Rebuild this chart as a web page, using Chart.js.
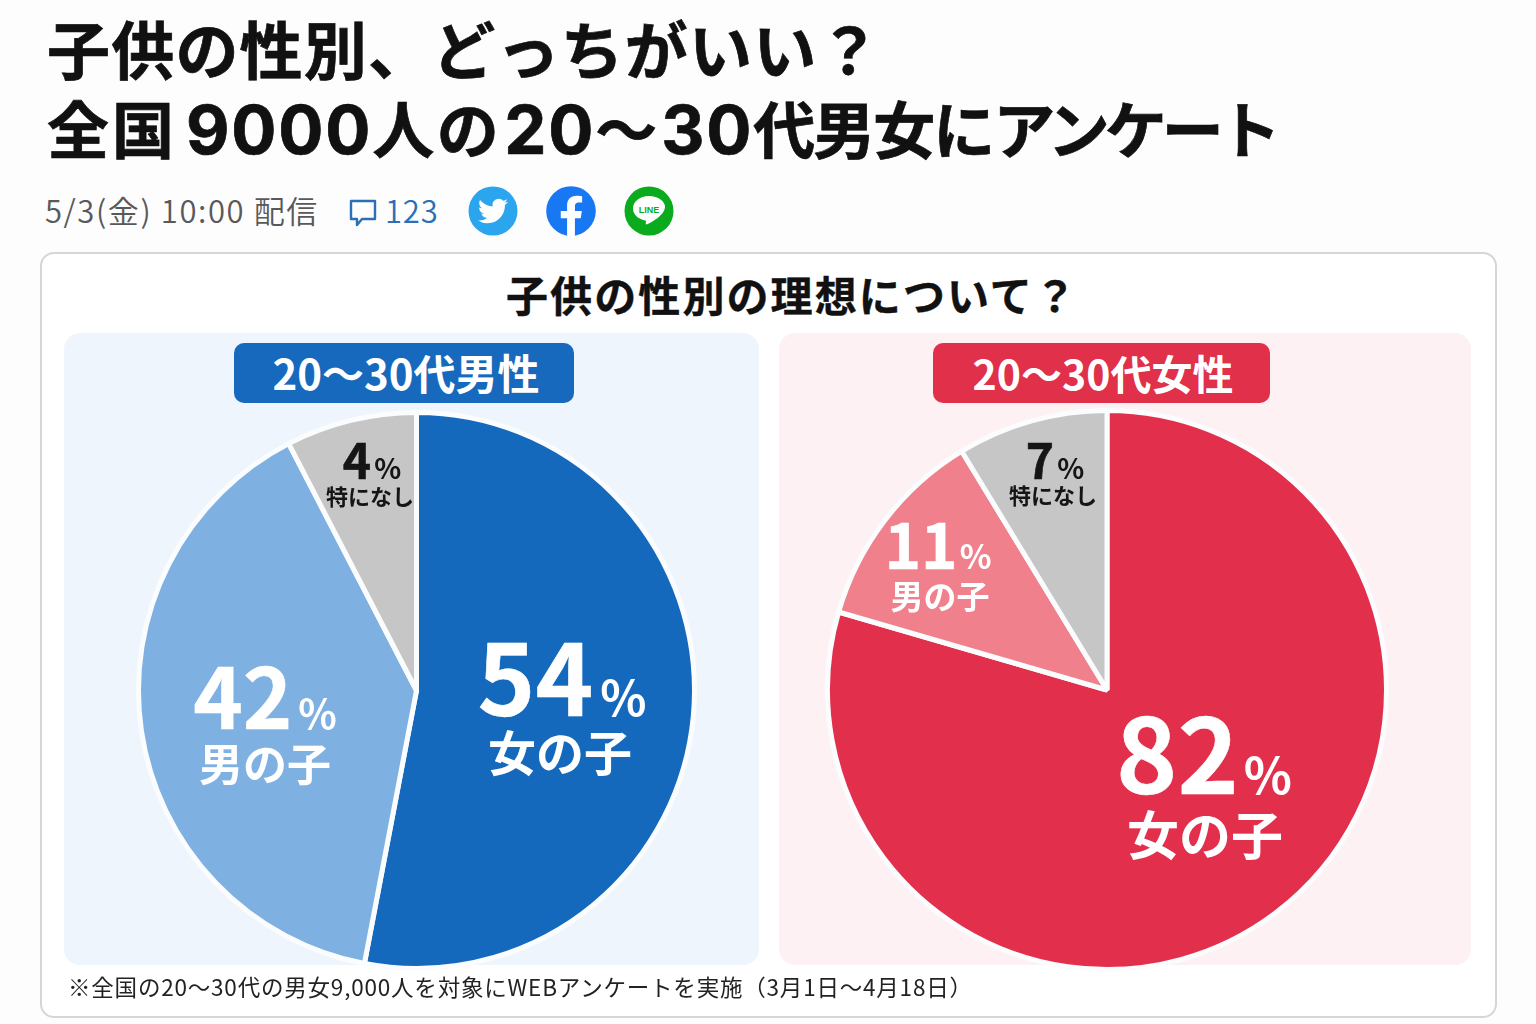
<!DOCTYPE html>
<html lang="ja"><head><meta charset="utf-8">
<script src="https://cdn.jsdelivr.net/npm/chart.js@4"></script>
<style>
html,body{margin:0;padding:0;width:1536px;height:1024px;overflow:hidden;background:#fdfdfd;font-family:"Noto Sans CJK JP",sans-serif;color:#111}
.a{position:absolute;white-space:nowrap}
.c{transform:translate(-50%,-50%);line-height:1}
h1{margin:0;font-size:63px;font-weight:700;line-height:1;-webkit-text-stroke:.7px #111}
h1 .d{font-family:Inter,sans-serif;font-size:67px;letter-spacing:1.800px;font-weight:700}
canvas{position:absolute}
</style></head><body>
<h1 class="a" style="left:47px;top:15px;letter-spacing:1.200px">子供の性別、どっちがいい？</h1>
<h1 class="a" style="left:47px;top:96px;font-size:62px"><span style="letter-spacing:3px">全国</span><span class="d" style="margin-left:9px">9000</span><span style="letter-spacing:2.500px">人の</span><span class="d" style="margin-left:3px">20</span><span style="letter-spacing:4px">～</span><span class="d">30</span><span style="letter-spacing:-2px">代男女に</span><span style="letter-spacing:-5px">アンケート</span></h1>
<div class="a" style="left:45px;top:191px;font-size:31px;line-height:38px;color:#595959;font-weight:350;letter-spacing:1.600px">5/3(金) 10:00 配信</div>
<svg class="a" style="left:348px;top:198px" width="30" height="30" viewBox="0 0 30 30"><path d="M3 3H27V21H14L9 27V21H3Z" fill="none" stroke="#2a6fb8" stroke-width="2.4" stroke-linejoin="round"/></svg>
<div class="a" style="left:385px;top:191px;font-size:31px;line-height:38px;color:#2a6fb8;font-weight:350;letter-spacing:.8px">123</div>
<svg class="a" style="left:468px;top:186px" width="50" height="50" viewBox="0 0 50 50"><circle cx="25" cy="25" r="24.5" fill="#2ba6ee"/><g transform="translate(10 10) scale(1.25)"><path fill="#fff" d="M23.953 4.57a10 10 0 01-2.825.775 4.958 4.958 0 002.163-2.723c-.951.555-2.005.959-3.127 1.184a4.92 4.92 0 00-8.384 4.482C7.69 8.095 4.067 6.13 1.64 3.162a4.822 4.822 0 00-.666 2.475c0 1.71.87 3.213 2.188 4.096a4.904 4.904 0 01-2.228-.616v.06a4.923 4.923 0 003.946 4.827 4.996 4.996 0 01-2.212.085 4.936 4.936 0 004.604 3.417 9.867 9.867 0 01-6.102 2.105c-.39 0-.779-.023-1.17-.067a13.995 13.995 0 007.557 2.209c9.053 0 13.998-7.496 13.998-13.985 0-.21 0-.42-.015-.63A9.935 9.935 0 0024 4.59z"/></g></svg>
<svg class="a" style="left:546px;top:186px" width="50" height="50" viewBox="0 0 24 24"><circle cx="12" cy="12" r="11.9" fill="#1877f2"/><path fill="#fff" d="M16.671 15.469L17.203 12h-3.328V9.75c0-.949.465-1.875 1.956-1.875h1.513V4.922s-1.374-.234-2.686-.234c-2.741 0-4.533 1.66-4.533 4.668V12H7.078v3.469h3.047v8.385a12.09 12.09 0 003.75 0v-8.385z"/></svg>
<svg class="a" style="left:624px;top:186px" width="50" height="50" viewBox="0 0 50 50"><circle cx="25" cy="25" r="24.5" fill="#0bab1e"/><path fill="#fff" d="M25 10C15.6 10 9 15.7 9 22.6c0 6 5.2 10.7 12.2 11.8.9.2.8 1 .7 2-.1.8-.5 2.6 1.2 1.9 2.4-1 10.400-5.400 14-9.600 2.600-2.600 3.900-5.300 3.900-8.100C41 15.700 34.400 10 25 10Z"/><text x="25" y="26.500" text-anchor="middle" font-size="9" font-weight="700" fill="#0bab1e" font-family="Liberation Sans">LINE</text></svg>

<div class="a" style="left:40px;top:252px;width:1453px;height:762px;border:2px solid #d6d6d6;border-radius:14px;background:#fff"></div>
<div class="a c" style="left:792px;top:294px;font-size:42px;font-weight:700;letter-spacing:2.100px;-webkit-text-stroke:.4px #111">子供の性別の理想について？</div>
<div class="a" style="left:64px;top:333px;width:695px;height:632px;border-radius:16px;background:#eef5fd"></div>
<div class="a" style="left:779px;top:333px;width:692px;height:632px;border-radius:16px;background:#fdf1f3"></div>
<div class="a" style="left:234px;top:343px;width:340px;height:60px;border-radius:10px;background:#1769bd"></div>
<div class="a" style="left:933px;top:343px;width:337px;height:60px;border-radius:10px;background:#e0304a"></div>
<div class="a c" style="left:406px;top:372px;font-size:42px;font-weight:700;color:#fff">20～30代男性</div>
<div class="a c" style="left:1103px;top:372px;font-size:41px;font-weight:700;color:#fff">20～30代女性</div>
<canvas id="pieMen" width="561" height="561" style="left:136px;top:410px;width:561px;height:561px"></canvas>
<canvas id="pieWomen" width="564" height="564" style="left:825px;top:408px;width:564px;height:564px"></canvas>
<div id="labels"></div>
<div class="a" style="left:68px;top:970px;font-size:22.500px;line-height:32px;color:#222;letter-spacing:.8px">※全国の20～30代の男女9,000人を対象にWEBアンケートを実施（3月1日～4月18日）</div>
<script>
// Printed percentages and category names, as labelled on the reference
const menCategories = ["女の子", "男の子", "特になし"];
const menLabelled = [54, 42, 4];
const womenCategories = ["女の子", "男の子", "特になし"];
const womenLabelled = [82, 11, 7];
// Slice shares as actually drawn on the reference (its wedges do not follow the printed numbers)
const menDrawn = [53, 39.4, 7.6];
const womenDrawn = [79.5, 11.8, 8.7];
const menColors = ["#1469bd", "#7eb0e2", "#c6c6c6"];
const womenColors = ["#e2304c", "#ef808c", "#c6c6c6"];

function pie(id, labels, data, colors){
  new Chart(document.getElementById(id), {
    type: "pie",
    data: {labels, datasets: [{data, backgroundColor: colors, borderColor: "#fbfcfe", borderWidth: 5}]},
    options: {responsive: false, animation: false, rotation: 0, layout: {padding: 0},
      plugins: {legend: {display: false}, tooltip: {enabled: false}}}
  });
}
pie("pieMen", menCategories, menDrawn, menColors);
pie("pieWomen", womenCategories, womenDrawn, womenColors);

const host = document.getElementById("labels");
function label(value, name, x, yNum, yName, numSize, pctSize, nameSize, color, gap, xName){
  const n = document.createElement("div");
  n.className = "a c";
  n.style.cssText = `left:${x}px;top:${yNum}px;font-weight:700;color:${color};line-height:1;font-size:${numSize}px;-webkit-text-stroke:.6px ${color}`;
  n.innerHTML = `${value}<span style="font-size:${pctSize}px;margin-left:${gap}px;-webkit-text-stroke:0">%</span>`;
  host.appendChild(n);
  const t = document.createElement("div");
  t.className = "a c";
  t.style.cssText = `left:${xName}px;top:${yName}px;font-weight:700;color:${color};font-size:${nameSize}px`;
  t.textContent = name;
  host.appendChild(t);
}
label(menLabelled[0], menCategories[0], 562, 673, 750, 98, 48, 48, "#fff", 7, 560);
label(menLabelled[1], menCategories[1], 265, 693, 762, 84, 40, 44, "#fff", 6, 265);
label(menLabelled[2], menCategories[2], 372, 458, 495, 48, 28, 22, "#151515", 3, 370);
label(womenLabelled[0], womenCategories[0], 1204, 749, 833, 104, 50, 52, "#fff", 5, 1205);
label(womenLabelled[1], womenCategories[1], 938, 542, 595, 62, 33, 33, "#fff", 2, 940);
label(womenLabelled[2], womenCategories[2], 1055, 458, 494, 48, 28, 22, "#151515", 3, 1053);
</script>
</body></html>
